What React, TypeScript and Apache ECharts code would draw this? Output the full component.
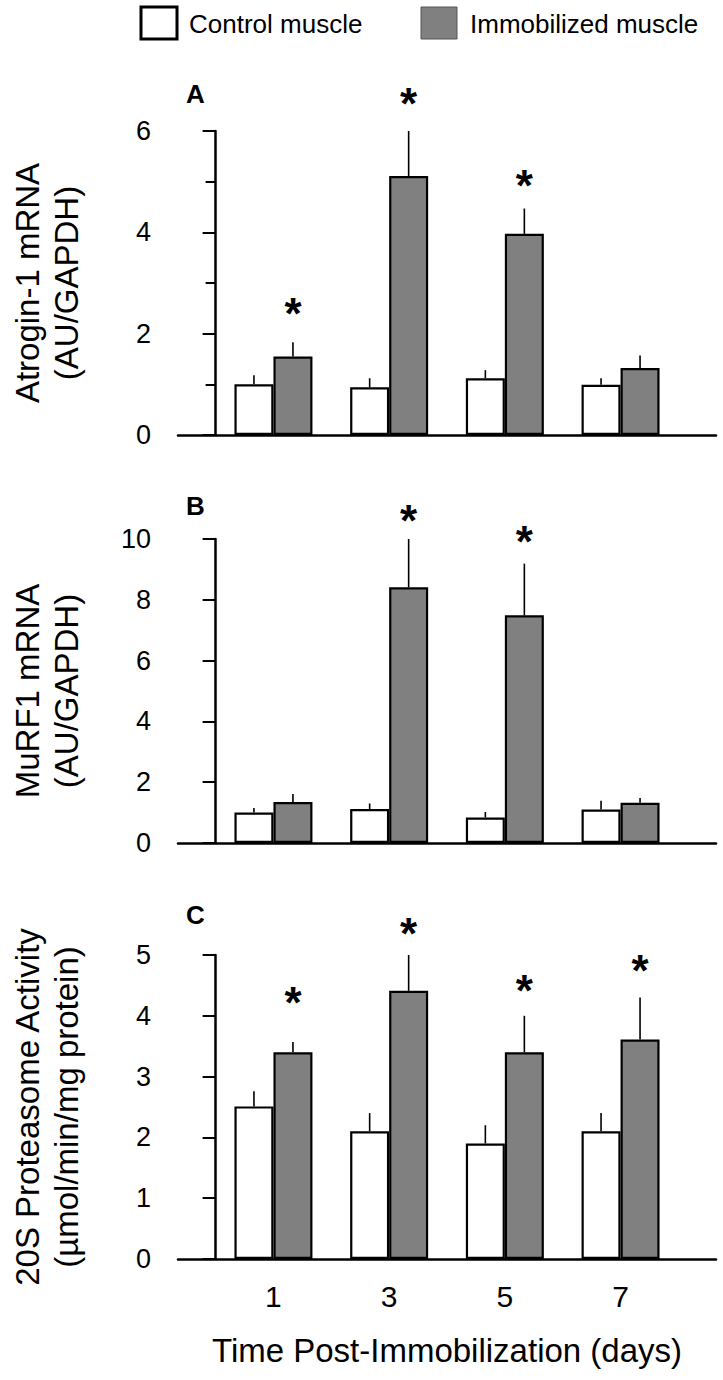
import React, { useEffect, useRef } from 'react';
import * as echarts from 'echarts';

// ---------- data ----------
const days = [1, 3, 5, 7];

// Panel A: Atrogin-1 mRNA (AU/GAPDH)
const atroginControl = [1.0, 0.94, 1.12, 0.99];
const atroginControlErr = [1.18, 1.12, 1.28, 1.12]; // top of SE bar
const atroginImmob = [1.55, 5.11, 3.97, 1.32];
const atroginImmobErr = [1.83, 6.0, 4.47, 1.57];
const atroginStar: (number | null)[] = [2.57, 6.72, 5.1, null];

// Panel B: MuRF1 mRNA (AU/GAPDH)
const murfControl = [1.0, 1.12, 0.84, 1.1];
const murfControlErr = [1.15, 1.3, 1.02, 1.39];
const murfImmob = [1.35, 8.41, 7.49, 1.32];
const murfImmobErr = [1.61, 10.0, 9.19, 1.48];
const murfStar: (number | null)[] = [null, 10.89, 10.23, null];

// Panel C: 20S Proteasome Activity (µmol/min/mg protein)
const protControl = [2.51, 2.1, 1.9, 2.1];
const protControlErr = [2.76, 2.4, 2.2, 2.4];
const protImmob = [3.4, 4.41, 3.4, 3.61];
const protImmobErr = [3.57, 5.0, 4.0, 4.3];
const protStar: (number | null)[] = [4.36, 5.5, 4.57, 4.89];

const panelLetters = ['A', 'B', 'C'];
const yNames = [
  'Atrogin-1 mRNA\n(AU/GAPDH)',
  'MuRF1 mRNA\n(AU/GAPDH)',
  '20S Proteasome Activity\n(µmol/min/mg protein)',
];
const yMax = [6, 10, 5];
const yInterval = [2, 2, 1];
const xTitle = 'Time Post-Immobilization (days)';
const legendNames = ['Control muscle', 'Immobilized muscle'];

// ---------- style ----------
const FONT = '"Liberation Sans", Arial, Helvetica, sans-serif';
const BAR_W = 39;
const GRID_LEFT = 173;
const GRID_W = 543;
const GRID_H = 304;
const GRID_TOPS = [131, 539, 955];
const LETTER_Y = [94, 506, 915];
const GREY = '#808080';

export default function App() {
  const ref = useRef<HTMLDivElement>(null);

  useEffect(() => {
    if (!ref.current) return;
    const chart = echarts.init(ref.current, null, { renderer: 'svg' });

    const panels = [
      { c: atroginControl, ce: atroginControlErr, i: atroginImmob, ie: atroginImmobErr, s: atroginStar },
      { c: murfControl, ce: murfControlErr, i: murfImmob, ie: murfImmobErr, s: murfStar },
      { c: protControl, ce: protControlErr, i: protImmob, ie: protImmobErr, s: protStar },
    ];

    const grid = GRID_TOPS.map((top) => ({ left: GRID_LEFT, width: GRID_W, top, height: GRID_H }));

    const xAxis = panels.map((_, k) => ({
      type: 'value',
      gridIndex: k,
      min: -0.65,
      max: 8.65,
      axisLine: { show: true, onZero: false, lineStyle: { color: '#000', width: 2.5 } },
      axisTick: { show: false },
      splitLine: { show: false },
      axisLabel: {
        show: k === 2,
        customValues: days,
        fontSize: 30,
        color: '#000',
        margin: 22,
        fontFamily: FONT,
      },
      name: k === 2 ? xTitle : '',
      nameLocation: 'middle',
      nameGap: 75,
      nameTextStyle: { fontSize: 33, color: '#000', fontFamily: FONT },
    }));

    const yAxis = panels.map((_, k) => ({
      type: 'value',
      gridIndex: k,
      min: 0,
      max: yMax[k],
      interval: yInterval[k],
      axisLine: { show: true, lineStyle: { color: '#000', width: 2.5 } },
      axisTick: { show: true, length: 13, lineStyle: { color: '#000', width: 2 } },
      minorTick: {
        show: k === 0,
        splitNumber: 2,
        length: 10,
        lineStyle: { color: '#000', width: 2 },
      },
      splitLine: { show: false },
      minorSplitLine: { show: false },
      axisLabel: { fontSize: 27, color: '#000', margin: 27, fontFamily: FONT },
      name: yNames[k],
      nameLocation: 'middle',
      nameRotate: 90,
      nameGap: 92,
      nameTextStyle: { fontSize: 33, lineHeight: 39, color: '#000', fontFamily: FONT },
    }));

    const errSeries = (vals: number[], errs: number[], stars: (number | null)[] | null, sign: number, k: number) => ({
      type: 'custom',
      xAxisIndex: k,
      yAxisIndex: k,
      clip: false,
      z: 5,
      silent: true,
      data: days.map((d, j) => [d, vals[j], errs[j]]),
      renderItem: (params: any, api: any) => {
        const x = api.value(0);
        const p0 = api.coord([x, api.value(1)]);
        const p1 = api.coord([x, api.value(2)]);
        const cx = p0[0] + (sign * BAR_W) / 2;
        const children: any[] = [
          {
            type: 'line',
            shape: { x1: cx, y1: p0[1], x2: cx, y2: p1[1] },
            style: { stroke: '#000', lineWidth: 1.6 },
          },
        ];
        const sv = stars ? stars[params.dataIndex] : null;
        if (sv != null) {
          const ps = api.coord([x, sv]);
          children.push({
            type: 'text',
            x: cx,
            y: ps[1] + 9,
            style: {
              text: '*',
              fill: '#000',
              font: `bold 44px ${FONT}`,
              align: 'center',
              verticalAlign: 'middle',
            },
          });
        }
        return { type: 'group', children };
      },
    });

    const series: any[] = [];
    panels.forEach((p, k) => {
      series.push({
        type: 'bar',
        name: legendNames[0],
        xAxisIndex: k,
        yAxisIndex: k,
        data: days.map((d, j) => [d, p.c[j]]),
        barWidth: BAR_W,
        barGap: '0%',
        itemStyle: { color: '#fff', borderColor: '#000', borderWidth: 2.2 },
        silent: true,
      });
      series.push({
        type: 'bar',
        name: legendNames[1],
        xAxisIndex: k,
        yAxisIndex: k,
        data: days.map((d, j) => [d, p.i[j]]),
        barWidth: BAR_W,
        barGap: '0%',
        itemStyle: { color: GREY, borderColor: '#000', borderWidth: 2.2 },
        silent: true,
      });
      series.push(errSeries(p.c, p.ce, null, -1, k));
      series.push(errSeries(p.i, p.ie, p.s, 1, k));
    });

    const graphic: any[] = [
      {
        type: 'rect',
        shape: { x: 141, y: 7, width: 36, height: 32 },
        style: { fill: '#fff', stroke: '#000', lineWidth: 3 },
      },
      {
        type: 'text',
        x: 189,
        y: 24,
        style: { text: legendNames[0], fill: '#000', font: `26px ${FONT}`, verticalAlign: 'middle' },
      },
      {
        type: 'rect',
        shape: { x: 421, y: 7, width: 36, height: 32 },
        style: { fill: GREY, stroke: '#555', lineWidth: 1 },
      },
      {
        type: 'text',
        x: 470,
        y: 24,
        style: { text: legendNames[1], fill: '#000', font: `26px ${FONT}`, verticalAlign: 'middle' },
      },
      ...panelLetters.map((t, k) => ({
        type: 'text',
        x: 186,
        y: LETTER_Y[k],
        style: { text: t, fill: '#000', font: `bold 26px ${FONT}`, verticalAlign: 'middle' },
      })),
    ];

    chart.setOption({
      animation: false,
      backgroundColor: '#fff',
      grid,
      xAxis,
      yAxis,
      series,
      graphic,
    });

    return () => chart.dispose();
  }, []);

  return (
    <div
      ref={ref}
      style={{ position: 'absolute', left: 0, top: 0, width: 723, height: 1380, background: '#fff' }}
    />
  );
}
